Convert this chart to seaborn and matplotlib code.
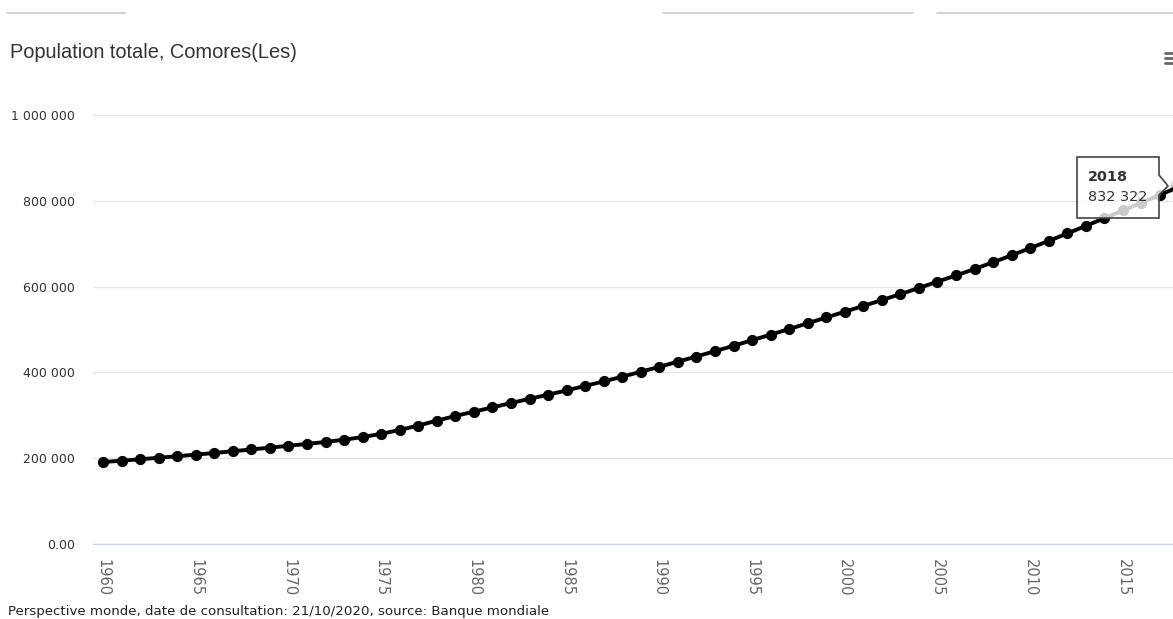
import numpy as np
import pandas as pd
import matplotlib
matplotlib.use('Agg')
import matplotlib.pyplot as plt
from matplotlib.patches import Polygon
import seaborn as sns

# Population totale, Comores (Banque mondiale)
years = list(range(1960, 2019))
population = [
    191121, 194200, 197500, 201000, 204600, 208300, 212200, 216200, 220400, 224600,
    229000, 233300, 237900, 243100, 249300, 256800, 265800, 276200, 287400, 298500,
    308500, 318500, 328500, 338500, 348000, 358000, 368500, 379000, 390000, 401500,
    413000, 425000, 437000, 449500, 462000, 475000, 488000, 501000, 514500, 528000,
    541500, 555000, 568500, 582500, 596800, 611500, 626000, 641000, 656800, 673000,
    689700, 706500, 723900, 741500, 759400, 777400, 795600, 813900, 832322,
]
y_ticks = [0, 200000, 400000, 600000, 800000, 1000000]
y_tick_labels = ['0.00', '200 000', '400 000', '600 000', '800 000', '1 000 000']
x_ticks = list(range(1960, 2020, 5))

hover_year = 2018
hover_label = '832 322'

df = pd.DataFrame({'year': years, 'population': population})

W, H = 1173, 619
sns.set_style('white')
plt.rcParams['font.family'] = ['DejaVu Sans']

fig = plt.figure(figsize=(W / 100, H / 100), dpi=100)


def fx(px):
    return px / W


def fy(py):
    return 1 - py / H


ax = fig.add_axes([fx(93), fy(544), fx(1173) - fx(93), fy(115) - fy(544)])

sns.lineplot(data=df, x='year', y='population', ax=ax, color='black',
             linewidth=2.8, marker='o', markersize=7.3, markeredgecolor='black',
             zorder=3)

# hovered point halo
hv = df[df['year'] == hover_year]
ax.scatter(hv['year'], hv['population'], s=170, color='#9a9a9a', alpha=0.5,
           zorder=2, linewidths=0)

ax.set_xlim(1959.46, 2017.7)
ax.set_ylim(0, 1000000)
ax.set_yticks(y_ticks)
ax.set_yticklabels(y_tick_labels)
ax.set_xticks(x_ticks)
ax.set_xticklabels([str(x) for x in x_ticks], rotation=-90)
ax.set_xlabel('')
ax.set_ylabel('')

for v in y_ticks[1:]:
    ax.axhline(v, color='#e6e6e6', linewidth=1, zorder=0)

for side in ['top', 'right', 'left']:
    ax.spines[side].set_visible(False)
ax.spines['bottom'].set_color('#ccd6eb')
ax.spines['bottom'].set_linewidth(1)

ax.tick_params(axis='y', length=0, pad=13, labelsize=9, labelcolor='#333333')
ax.tick_params(axis='x', length=7, width=1, color='#ccd6eb', direction='out',
               pad=4, labelsize=10.5, labelcolor='#666666')

# title
fig.text(fx(10), fy(52), 'Population totale, Comores(Les)', fontsize=14.4,
         family='Liberation Sans', color='#333333', va='center', ha='left')

# footer
fig.text(fx(8), fy(611), 'Perspective monde, date de consultation: 21/10/2020, source: Banque mondiale',
         fontsize=9.6, color='#222222', va='center', ha='left')

# top separator lines
for x0, x1 in [(7, 125), (663, 913), (937, 1173)]:
    fig.add_artist(plt.Line2D([fx(x0), fx(x1)], [fy(13), fy(13)], color='#c8c8c8',
                              linewidth=1.2, transform=fig.transFigure))

# menu icon
for yy in [53, 58, 63]:
    fig.add_artist(plt.Line2D([fx(1165), fx(1173)], [fy(yy), fy(yy)], color='#666666',
                              linewidth=2, transform=fig.transFigure))

# tooltip
pts = [(1077, 157), (1159, 157), (1159, 175), (1168, 186), (1159, 195),
       (1159, 218), (1077, 218)]
box = Polygon([(fx(a), fy(b)) for a, b in pts], closed=True, transform=fig.transFigure,
              facecolor='white', alpha=0.8, edgecolor='none', zorder=10)
fig.add_artist(box)
edge = Polygon([(fx(a), fy(b)) for a, b in pts], closed=True, transform=fig.transFigure,
               facecolor='none', edgecolor='#444444', linewidth=1.2, zorder=11)
fig.add_artist(edge)
fig.text(fx(1088), fy(177), str(hover_year), fontsize=10.4, fontweight='bold',
         color='#333333', va='center', ha='left', zorder=12)
fig.text(fx(1088), fy(197), hover_label, fontsize=10.4, color='#333333',
         va='center', ha='left', zorder=12)

fig.savefig('out.png', dpi=100)
